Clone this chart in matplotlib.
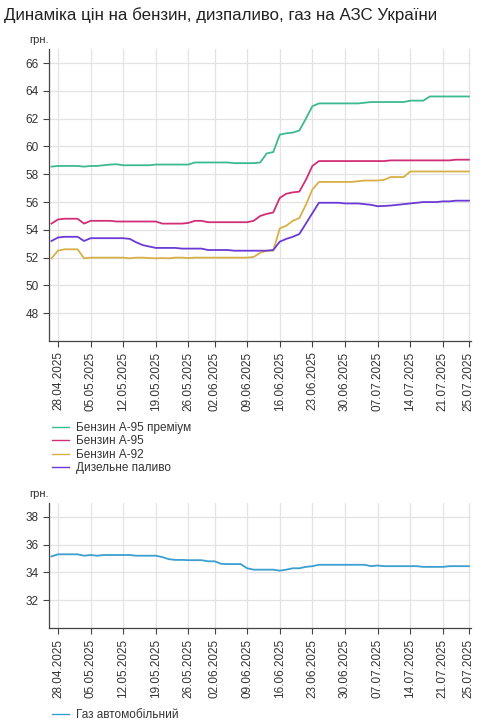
import matplotlib.pyplot as plt
import numpy as np
import pandas as pd

plt.rcParams["font.family"] = ["Liberation Sans", "DejaVu Sans"]

# .. Trading days (weekdays, one missing day at the end of May).
dates = pd.bdate_range("2025-04-25", "2025-07-25").drop(pd.Timestamp("2025-05-30"))
date_labels = [d.strftime("%d.%m.%Y") for d in dates]

tick_labels = [
    "28.04.2025", "05.05.2025", "12.05.2025", "19.05.2025", "26.05.2025",
    "02.06.2025", "09.06.2025", "16.06.2025", "23.06.2025", "30.06.2025",
    "07.07.2025", "14.07.2025", "21.07.2025", "25.07.2025",
]

# .. Prices, UAH per litre.
a95_premium = [
    58.55, 58.6, 58.6, 58.6, 58.6, 58.55, 58.6, 58.6, 58.65, 58.7,
    58.72, 58.65, 58.65, 58.65, 58.65, 58.65, 58.7, 58.7, 58.7, 58.7,
    58.7, 58.7, 58.85, 58.85, 58.85, 58.85, 58.85, 58.85, 58.8, 58.8,
    58.8, 58.8, 58.85, 59.5, 59.6, 60.85, 60.95, 61.0, 61.15, 62.0,
    62.9, 63.1, 63.1, 63.1, 63.1, 63.1, 63.1, 63.1, 63.15, 63.2,
    63.2, 63.2, 63.2, 63.2, 63.2, 63.3, 63.3, 63.3, 63.6, 63.6,
    63.6, 63.6, 63.6, 63.6, 63.6,
]
a95 = [
    54.45, 54.75, 54.8, 54.8, 54.8, 54.45, 54.65, 54.65, 54.65, 54.65,
    54.6, 54.6, 54.6, 54.6, 54.6, 54.6, 54.6, 54.45, 54.45, 54.45,
    54.45, 54.5, 54.65, 54.65, 54.55, 54.55, 54.55, 54.55, 54.55, 54.55,
    54.55, 54.65, 55.0, 55.15, 55.25, 56.3, 56.6, 56.7, 56.75, 57.6,
    58.6, 58.95, 58.95, 58.95, 58.95, 58.95, 58.95, 58.95, 58.95, 58.95,
    58.95, 58.95, 59.0, 59.0, 59.0, 59.0, 59.0, 59.0, 59.0, 59.0,
    59.0, 59.0, 59.05, 59.05, 59.05,
]
a92 = [
    51.95, 52.5, 52.6, 52.6, 52.6, 51.95, 52.0, 52.0, 52.0, 52.0,
    52.0, 52.0, 51.95, 52.0, 52.0, 51.97, 51.95, 51.97, 51.95, 52.0,
    52.0, 51.97, 52.0, 52.0, 52.0, 52.0, 52.0, 52.0, 52.0, 52.0,
    52.0, 52.05, 52.35, 52.5, 52.5, 54.1, 54.3, 54.65, 54.85, 55.8,
    56.9, 57.45, 57.45, 57.45, 57.45, 57.45, 57.45, 57.5, 57.55, 57.55,
    57.55, 57.6, 57.8, 57.8, 57.8, 58.2, 58.2, 58.2, 58.2, 58.2,
    58.2, 58.2, 58.2, 58.2, 58.2,
]
diesel = [
    53.2, 53.45, 53.5, 53.5, 53.5, 53.2, 53.4, 53.4, 53.4, 53.4,
    53.4, 53.4, 53.35, 53.1, 52.9, 52.8, 52.7, 52.7, 52.7, 52.7,
    52.65, 52.65, 52.65, 52.65, 52.55, 52.55, 52.55, 52.55, 52.5, 52.5,
    52.5, 52.5, 52.5, 52.5, 52.55, 53.15, 53.35, 53.5, 53.7, 54.45,
    55.2, 55.95, 55.95, 55.95, 55.95, 55.9, 55.9, 55.9, 55.85, 55.8,
    55.7, 55.72, 55.75, 55.8, 55.85, 55.9, 55.95, 56.0, 56.0, 56.0,
    56.05, 56.05, 56.1, 56.1, 56.1,
]
lpg = [
    35.15, 35.3, 35.3, 35.3, 35.3, 35.2, 35.25, 35.2, 35.25, 35.25,
    35.25, 35.25, 35.25, 35.2, 35.2, 35.2, 35.2, 35.1, 34.95, 34.9,
    34.9, 34.88, 34.88, 34.88, 34.8, 34.8, 34.62, 34.6, 34.6, 34.6,
    34.3, 34.2, 34.2, 34.2, 34.2, 34.13, 34.2, 34.3, 34.3, 34.4,
    34.45, 34.55, 34.55, 34.55, 34.55, 34.55, 34.55, 34.55, 34.55, 34.45,
    34.5, 34.45, 34.45, 34.45, 34.45, 34.45, 34.45, 34.4, 34.4, 34.4,
    34.4, 34.45, 34.45, 34.45, 34.45,
]

top_series = [
    ("Бензин А-95 преміум", a95_premium, "#3db992"),
    ("Бензин А-95", a95, "#d12e78"),
    ("Бензин А-92", a92, "#d8b049"),
    ("Дизельне паливо", diesel, "#6b3ad6"),
]
bottom_series = [("Газ автомобільний", lpg, "#3b9fd0")]

TEXT = "#333333"
GRID = "#e3e3e3"


def style_axes(ax, ylim, yticks):
    x = np.arange(len(date_labels))
    tick_pos = [date_labels.index(t) for t in tick_labels]
    ax.set_xlim(-0.38, x[-1] + 0.3)
    ax.set_ylim(*ylim)
    ax.set_yticks(yticks)
    ax.set_xticks(tick_pos)
    ax.set_xticklabels(tick_labels, rotation=90)
    ax.grid(True, color=GRID, linewidth=0.9)
    ax.set_axisbelow(True)
    for side in ("top", "right"):
        ax.spines[side].set_visible(False)
    for side in ("left", "bottom"):
        ax.spines[side].set_color("#444444")
        ax.spines[side].set_linewidth(0.9)
    ax.tick_params(colors="#444444", labelcolor=TEXT, labelsize=8.5,
                   length=4, width=0.8)
    ax.annotate("грн.", xy=(0, 1), xycoords="axes fraction",
                xytext=(0, 3), textcoords="offset points",
                ha="right", va="bottom", fontsize=8, color=TEXT)


def add_legend(fig, ax, top_px):
    h, l = ax.get_legend_handles_labels()
    leg = fig.legend(h, l, loc="upper left",
                     bbox_to_anchor=(52 / 490, 1 - top_px / 724),
                     frameon=False, fontsize=8.5, handlelength=1.45,
                     handletextpad=0.55, labelspacing=0.12, borderpad=0,
                     borderaxespad=0, labelcolor=TEXT)
    for line in leg.get_lines():
        line.set_linewidth(1.0)
    return leg


fig = plt.figure(figsize=(4.9, 7.24), dpi=100)
fig.text(0.008, 0.99, "Динаміка цін на бензин, дизпаливо, газ на АЗС України",
         ha="left", va="top", fontsize=12.2, color="#222222")

x = np.arange(len(date_labels))

ax1 = fig.add_axes([0.1, 0.529, 0.861, 0.403])
for name, values, color in top_series:
    ax1.plot(x, values, color=color, linewidth=1.3, label=name)
style_axes(ax1, (46, 67), np.arange(48, 67, 2))
add_legend(fig, ax1, 422)

ax2 = fig.add_axes([0.1, 0.1322, 0.861, 0.1735])
for name, values, color in bottom_series:
    ax2.plot(x, values, color=color, linewidth=1.3, label=name)
style_axes(ax2, (30, 39), np.arange(32, 39, 2))
add_legend(fig, ax2, 709)

fig.savefig("out.png", dpi=100)
